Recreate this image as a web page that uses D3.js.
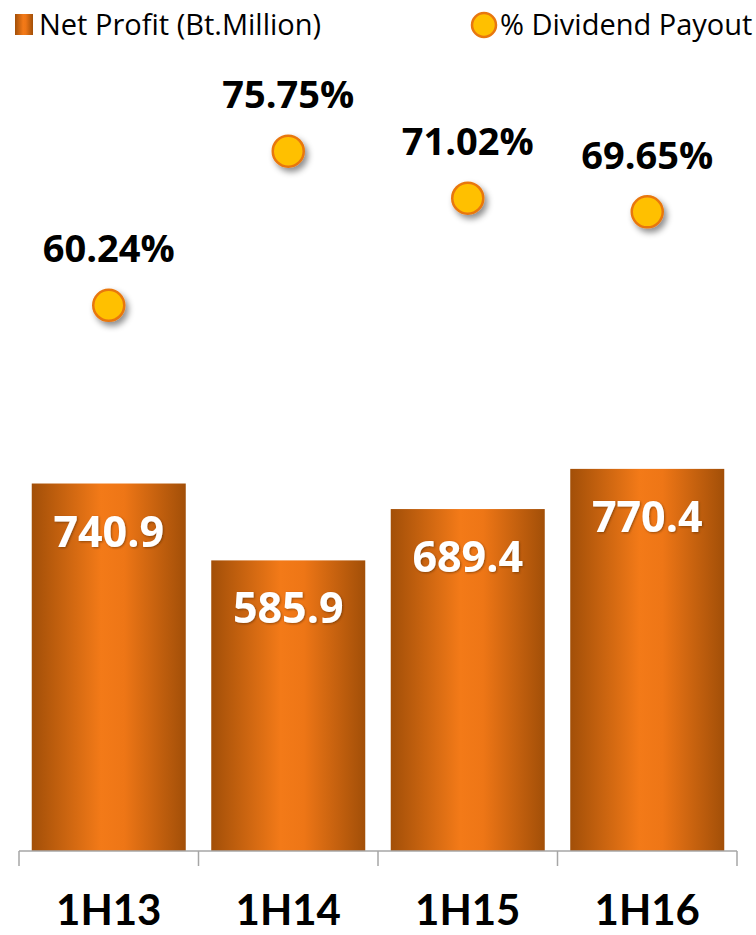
<!DOCTYPE html>
<html>
<head>
<meta charset="utf-8">
<script src="https://cdn.jsdelivr.net/npm/d3@7"></script>
<style>
  body { margin: 0; background: #fff; }
  svg { display: block; }
</style>
</head>
<body>
<div id="chart"></div>
<script>
// data
const periods = ["1H13", "1H14", "1H15", "1H16"]
const netProfit = [740.9, 585.9, 689.4, 770.4]
const payout = [60.24, 75.75, 71.02, 69.65]
const legendNames = ["Net Profit (Bt.Million)", "% Dividend Payout"]

const width = 756
const height = 935
const baseY = 851
const font = "'Open Sans', 'DejaVu Sans', sans-serif"

const svg = d3.select('#chart')
  .append('svg')
  .attr('width', width)
  .attr('height', height)

const defs = svg.append('defs')

// bar fill: dark edges, bright middle
const grad = defs.append('linearGradient')
  .attr('id', 'barGrad')
  .attr('x1', '0%').attr('x2', '100%')
  .attr('y1', '0%').attr('y2', '0%')
grad.append('stop').attr('offset', '0%').attr('stop-color', '#a24f08')
grad.append('stop').attr('offset', '45%').attr('stop-color', '#f37a18')
grad.append('stop').attr('offset', '60%').attr('stop-color', '#ee7616')
grad.append('stop').attr('offset', '100%').attr('stop-color', '#a24f08')

const shadow = defs.append('filter')
  .attr('id', 'dotShadow')
  .attr('x', '-50%').attr('y', '-50%')
  .attr('width', '200%').attr('height', '200%')
shadow.append('feDropShadow')
  .attr('dx', 3).attr('dy', 4)
  .attr('stdDeviation', 3)
  .attr('flood-color', '#000')
  .attr('flood-opacity', 0.45)

const textShadow = defs.append('filter')
  .attr('id', 'txtShadow')
textShadow.append('feDropShadow')
  .attr('dx', 1).attr('dy', 1)
  .attr('stdDeviation', 1)
  .attr('flood-color', '#5a2a00')
  .attr('flood-opacity', 0.6)

// scales
const xScale = d3.scaleBand()
  .domain(periods)
  .range([19, 737])
  .paddingInner(0.142)
  .paddingOuter(0.071)

const yScale = d3.scaleLinear()
  .domain([0, 1000])
  .range([baseY, baseY - 496])

const pScale = d3.scaleLinear()
  .domain([50, 80])
  .range([407, 109])

// bars
const bars = svg.selectAll('.bar')
  .data(periods)
  .enter()
  .append('g')
  .attr('class', 'bar')

bars.append('rect')
  .attr('x', d => xScale(d))
  .attr('y', (d, i) => yScale(netProfit[i]))
  .attr('width', xScale.bandwidth())
  .attr('height', (d, i) => baseY - yScale(netProfit[i]))
  .style('fill', 'url(#barGrad)')

bars.append('text')
  .attr('x', d => xScale(d) + xScale.bandwidth() / 2)
  .attr('y', (d, i) => yScale(netProfit[i]) + 63)
  .attr('text-anchor', 'middle')
  .attr('filter', 'url(#txtShadow)')
  .style('font-family', font)
  .style('font-weight', 'bold')
  .style('font-size', '43px')
  .style('fill', '#fff')
  .text((d, i) => netProfit[i].toFixed(1))

// axis line and boundary ticks
const axis = svg.append('g').attr('class', 'x-axis')
axis.append('line')
  .attr('x1', xScale.range()[0]).attr('x2', xScale.range()[1])
  .attr('y1', baseY).attr('y2', baseY)
  .style('stroke', '#a6a6a6').style('stroke-width', 1.5)
axis.selectAll('.tick')
  .data(d3.range(periods.length + 1))
  .enter()
  .append('line')
  .attr('x1', i => xScale.range()[0] + i * xScale.step())
  .attr('x2', i => xScale.range()[0] + i * xScale.step())
  .attr('y1', baseY).attr('y2', baseY + 15)
  .style('stroke', '#a6a6a6').style('stroke-width', 1.5)

// Lato has a short descent, so the labels can sit low without clipping
axis.selectAll('.cat')
  .data(periods)
  .enter()
  .append('text')
  .attr('x', d => xScale(d) + xScale.bandwidth() / 2)
  .attr('y', 925)
  .attr('text-anchor', 'middle')
  .style('font-family', "Lato, 'Open Sans', sans-serif")
  .style('font-weight', 'bold')
  .style('font-size', '42px')
  .style('fill', '#000')
  .text(d => d)

// payout dots
const dots = svg.selectAll('.dot')
  .data(periods)
  .enter()
  .append('g')
  .attr('class', 'dot')

dots.append('circle')
  .attr('cx', d => xScale(d) + xScale.bandwidth() / 2)
  .attr('cy', (d, i) => pScale(payout[i]))
  .attr('r', 15.5)
  .attr('filter', 'url(#dotShadow)')
  .style('fill', '#ffc000')
  .style('stroke', '#e8770f')
  .style('stroke-width', 2.5)

dots.append('text')
  .attr('x', d => xScale(d) + xScale.bandwidth() / 2)
  .attr('y', (d, i) => pScale(payout[i]) - 43)
  .attr('text-anchor', 'middle')
  .style('font-family', font)
  .style('font-weight', 'bold')
  .style('font-size', '38px')
  .style('fill', '#000')
  .text((d, i) => payout[i].toFixed(2) + '%')

// legend
const legend = svg.append('g').attr('class', 'legend')
legend.append('rect')
  .attr('x', 15).attr('y', 14)
  .attr('width', 18).attr('height', 21)
  .style('fill', 'url(#barGrad)')
legend.append('text')
  .attr('x', 39).attr('y', 35)
  .style('font-family', font)
  .style('font-size', '29px')
  .style('fill', '#000')
  .text(legendNames[0])
legend.append('circle')
  .attr('cx', 484).attr('cy', 25)
  .attr('r', 12)
  .style('fill', '#ffc000')
  .style('stroke', '#e8770f')
  .style('stroke-width', 2.5)
legend.append('text')
  .attr('x', 500).attr('y', 35)
  .style('font-family', font)
  .style('font-size', '29px')
  .style('fill', '#000')
  .text(legendNames[1])
</script>
</body>
</html>
